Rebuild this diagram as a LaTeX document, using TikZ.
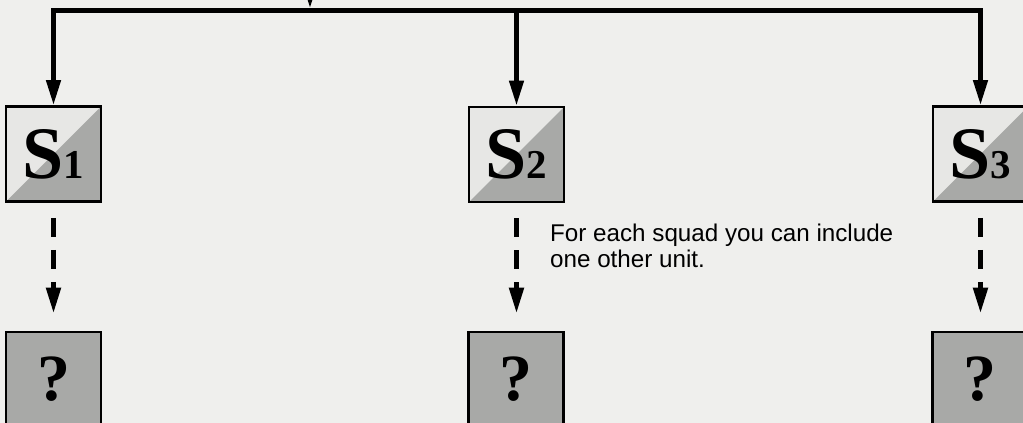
\documentclass[tikz,border=0pt]{standalone}
\usepackage{fontspec}
\setmainfont{Liberation Serif}
\newfontfamily\sansf{Liberation Sans}
\usetikzlibrary{arrows.meta}
\definecolor{paper}{RGB}{239,239,237}
\definecolor{lighthalf}{RGB}{231,231,229}
\definecolor{midgray}{RGB}{168,169,167}
\begin{document}
\begin{tikzpicture}[x=1pt,y=-1pt,
  squadbox/.style={draw=black, line width=2.8pt, minimum size=95pt, inner sep=0pt,
    fill=lighthalf,
    path picture={\fill[midgray] (path picture bounding box.south west) --
      (path picture bounding box.south east) -- (path picture bounding box.north east) -- cycle;}},
  qbox/.style={draw=black, line width=2.8pt, minimum size=95pt, inner sep=0pt, fill=midgray,
    font=\bfseries\fontsize{66}{66}\selectfont},
  bus/.style={line width=4.5pt, line join=miter, -{Triangle[length=25pt,width=14pt]}},
  dasharrow/.style={line width=5pt, dash pattern=on 19pt off 13pt,
    -{Triangle[length=26pt,width=14pt]}},
  note/.style={font=\sansf\fontsize{24.2}{26}\selectfont, align=left, inner sep=0pt}
]
\clip (0,0) rectangle (1023,423);
\fill[paper] (0,0) rectangle (1023,423);

\newcommand{\squadlabel}[1]{{\bfseries\fontsize{74}{74}\selectfont S}{\bfseries\fontsize{41}{41}\selectfont #1}}

\node[squadbox] (S1) at (53.5,154) {\squadlabel{1}};
\node[squadbox] (S2) at (516.5,154.5) {\squadlabel{2}};
\node[squadbox] (S3) at (980.5,154) {\squadlabel{3}};

\node[qbox] (Q1) at (53.5,379.5) {?};
\node[qbox] (Q2) at (516,379.5) {?};
\node[qbox] (Q3) at (980,379.5) {?};

\coordinate (bus) at (0,10.5);
\coordinate (feed) at (310,-40);

% top bus
\draw[bus, {Triangle[length=25pt,width=14pt]}-{Triangle[length=25pt,width=14pt]}]
  (S1.north) -- (S1.north |- bus) -- (S3.north |- bus) -- (S3.north);
\draw[bus] (S2.north |- bus) -- (S2.north);
\draw[bus, shorten >=2.25pt] (feed) -- (feed |- bus);

% dashed arrows
\draw[dasharrow, shorten <=15pt, shorten >=17pt] (S1.south) -- (Q1.north);
\draw[dasharrow, shorten <=15pt, shorten >=17pt] (S2.south) -- (S2.south |- Q2.north);
\draw[dasharrow, shorten <=15pt, shorten >=17pt] (S3.south) -- (S3.south |- Q3.north);

\node[note, anchor=base west] (txt) at (550,267) {For each squad you can include\\one other unit.};
\end{tikzpicture}
\end{document}
